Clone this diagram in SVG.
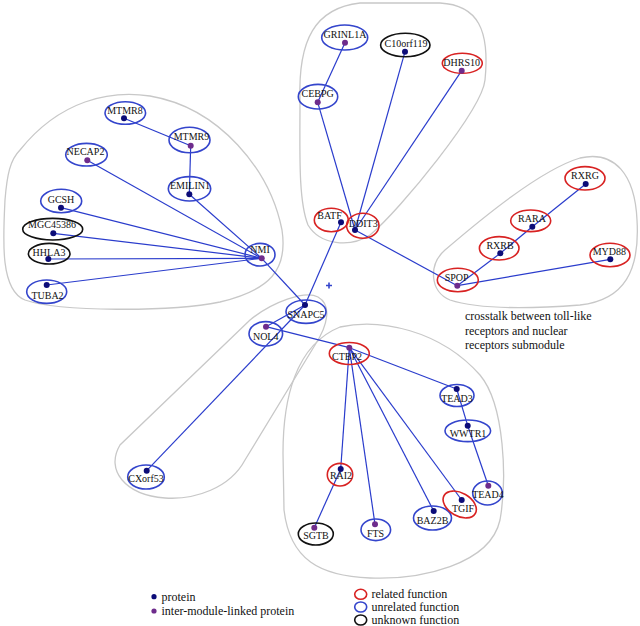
<svg xmlns="http://www.w3.org/2000/svg" width="640" height="626" viewBox="0 0 640 626">
<style>
.hull{fill:none;stroke:#c8c8c8;stroke-width:1.3}
.e{stroke:#2a3ccc;stroke-width:1.2;fill:none}
.nb{fill:none;stroke:#3445cc;stroke-width:1.6}
.nr{fill:none;stroke:#d82222;stroke-width:1.6}
.nk{fill:none;stroke:#111;stroke-width:1.6}
.dp{fill:#0c0c78}
.dm{fill:#6e2c8c}
.lb{font-family:"Liberation Serif","Times New Roman",serif;font-size:10px;fill:#111;text-anchor:middle}
.tx{font-family:"Liberation Serif","Times New Roman",serif;font-size:12px;fill:#111}
</style>
<rect width="640" height="626" fill="#fff"/>
<g id="modules">
<path class="hull" d="M300,100 C298,40 315,8 360,3 L440,3 C478,5 490,30 485,80 C482,110 400,210 370,235 C350,248 320,245 308,225 C298,200 300,150 300,100 Z"/>
<path class="hull" d="M445,250 C480,220 540,170 580,158 C615,150 635,175 637,220 C640,270 625,300 580,305 C540,308 480,310 450,300 C430,292 428,265 445,250 Z"/>
<path class="hull" d="M20,150 C60,100 110,90 150,96 C220,108 270,170 282,230 C288,270 270,290 220,302 C170,312 60,312 25,300 C0,290 3,240 5,200 C7,175 10,160 20,150 Z"/>
<path class="hull" d="M318,297 C332,305 328,325 315,345 L245,460 C230,488 195,500 165,498 C125,495 105,470 120,445 L250,320 C272,302 305,290 318,297 Z"/>
<path class="hull" d="M283,453 C283,400 295,345 340,327 C380,318 440,330 480,375 C505,405 507,480 500,520 C490,565 420,580 370,578 C320,576 290,560 284,510 Z"/>
</g>
<g id="connectors">
<line class="e" x1="345" y1="42.7" x2="317.7" y2="102.3"/>
<line class="e" x1="317.7" y1="102.3" x2="355" y2="230"/>
<line class="e" x1="405" y1="51.7" x2="355" y2="230"/>
<line class="e" x1="461.7" y1="70.7" x2="355" y2="230"/>
<line class="e" x1="355" y1="230" x2="457.3" y2="285.7"/>
<line class="e" x1="341" y1="222.3" x2="305" y2="305"/>
<line class="e" x1="585.7" y1="184" x2="532.3" y2="226.7"/>
<line class="e" x1="532.3" y1="226.7" x2="500.3" y2="253.3"/>
<line class="e" x1="500.3" y1="253.3" x2="457.3" y2="285.7"/>
<line class="e" x1="610.3" y1="259.3" x2="457.3" y2="285.7"/>
<line class="e" x1="124" y1="118.3" x2="190.7" y2="145.7"/>
<line class="e" x1="190.7" y1="145.7" x2="189.3" y2="194.3"/>
<line class="e" x1="189.3" y1="194.3" x2="261.7" y2="258.3"/>
<line class="e" x1="87.3" y1="160.3" x2="261.7" y2="258.3"/>
<line class="e" x1="61" y1="207.7" x2="261.7" y2="258.3"/>
<line class="e" x1="53.3" y1="233.3" x2="261.7" y2="258.3"/>
<line class="e" x1="48.3" y1="259" x2="261.7" y2="258.3"/>
<line class="e" x1="46.7" y1="285" x2="261.7" y2="258.3"/>
<line class="e" x1="261.7" y1="258.3" x2="305" y2="305"/>
<line class="e" x1="305" y1="305" x2="266" y2="326.7"/>
<line class="e" x1="305" y1="305" x2="146.7" y2="470.7"/>
<line class="e" x1="266" y1="326.7" x2="349.3" y2="347.7"/>
<line class="e" x1="349.3" y1="347.7" x2="456.7" y2="389"/>
<line class="e" x1="349.3" y1="347.7" x2="340.7" y2="469"/>
<line class="e" x1="349.3" y1="347.7" x2="375" y2="524.3"/>
<line class="e" x1="349.3" y1="347.7" x2="433.7" y2="511"/>
<line class="e" x1="349.3" y1="347.7" x2="461.7" y2="500"/>
<line class="e" x1="340.7" y1="469" x2="314.3" y2="527.7"/>
<line class="e" x1="456.7" y1="389" x2="467.7" y2="425.7"/>
<line class="e" x1="467.7" y1="425.7" x2="488.3" y2="485.7"/>
</g>
<g id="GRINL1A"><ellipse class="nb" cx="344.7" cy="37.5" rx="23" ry="12.5"/><text class="lb" x="345" y="37.5">GRINL1A</text><circle class="dm" cx="345" cy="42.7" r="3"/></g>
<g id="C10orf119"><ellipse class="nk" cx="405.3" cy="45" rx="24.7" ry="11.7"/><text class="lb" x="406" y="47">C10orf119</text><circle class="dp" cx="405" cy="51.7" r="3"/></g>
<g id="DHRS10"><ellipse class="nr" cx="462.3" cy="63.3" rx="20" ry="10"/><text class="lb" x="461.7" y="66">DHRS10</text><circle class="dm" cx="461.7" cy="70.7" r="3"/></g>
<g id="CEBPG"><ellipse class="nb" cx="318" cy="96.7" rx="19.7" ry="12.3"/><text class="lb" x="317.7" y="97">CEBPG</text><circle class="dm" cx="317.7" cy="102.3" r="3"/></g>
<g id="BATF"><ellipse class="nr" cx="331.3" cy="220" rx="17" ry="11.7"/><text class="lb" x="329.5" y="218.5">BATF</text><circle class="dp" cx="341" cy="222.3" r="3"/></g>
<g id="DDIT3"><ellipse class="nr" cx="362.8" cy="225.8" rx="16.2" ry="12.5"/><text class="lb" x="363.3" y="227">DDIT3</text><circle class="dp" cx="355" cy="230" r="3"/></g>
<g id="RXRG"><ellipse class="nr" cx="585" cy="178.3" rx="20" ry="11.7"/><text class="lb" x="585" y="178.5">RXRG</text><circle class="dp" cx="585.7" cy="184" r="3"/></g>
<g id="RARA"><ellipse class="nr" cx="530.7" cy="220.8" rx="20" ry="10.8"/><text class="lb" x="532" y="222.3">RARA</text><circle class="dp" cx="532.3" cy="226.7" r="3"/></g>
<g id="RXRB"><ellipse class="nr" cx="499.2" cy="248.3" rx="19.8" ry="11.7"/><text class="lb" x="500" y="248.5">RXRB</text><circle class="dp" cx="500.3" cy="253.3" r="3"/></g>
<g id="MYD88"><ellipse class="nr" cx="610" cy="255" rx="20" ry="11.7"/><text class="lb" x="609.3" y="254.5">MYD88</text><circle class="dp" cx="610.3" cy="259.3" r="3"/></g>
<g id="SPOP"><ellipse class="nr" cx="457.8" cy="280" rx="20.5" ry="11.7"/><text class="lb" x="456.7" y="281">SPOP</text><circle class="dm" cx="457.3" cy="285.7" r="3"/></g>
<g id="MTMR8"><ellipse class="nb" cx="125.3" cy="113" rx="20.3" ry="11.3"/><text class="lb" x="125" y="114">MTMR8</text><circle class="dp" cx="124" cy="118.3" r="3"/></g>
<g id="MTMR9"><ellipse class="nb" cx="189.5" cy="140" rx="20.5" ry="12.7"/><text class="lb" x="191.5" y="140">MTMR9</text><circle class="dm" cx="190.7" cy="145.7" r="3"/></g>
<g id="NECAP2"><ellipse class="nb" cx="86.5" cy="154.7" rx="20.8" ry="11.3"/><text class="lb" x="85.5" y="155">NECAP2</text><circle class="dm" cx="87.3" cy="160.3" r="3"/></g>
<g id="EMILIN1"><ellipse class="nb" cx="189.5" cy="188.8" rx="21.2" ry="12.2"/><text class="lb" x="190" y="189">EMILIN1</text><circle class="dp" cx="189.3" cy="194.3" r="3"/></g>
<g id="GCSH"><ellipse class="nb" cx="61.2" cy="201" rx="20.5" ry="11.7"/><text class="lb" x="61" y="202.7">GCSH</text><circle class="dp" cx="61" cy="207.7" r="3"/></g>
<g id="MGC45386"><ellipse class="nk" cx="52.7" cy="229.2" rx="30" ry="10.8"/><text class="lb" x="52" y="228.3">MGC45386</text><circle class="dp" cx="53.3" cy="233.3" r="3"/></g>
<g id="HHLA3"><ellipse class="nk" cx="49.2" cy="253.7" rx="20.8" ry="10.3"/><text class="lb" x="49" y="255.5">HHLA3</text><circle class="dp" cx="48.3" cy="259" r="3"/></g>
<g id="TUBA2"><ellipse class="nb" cx="46.7" cy="291.7" rx="20" ry="11.7"/><text class="lb" x="47.5" y="299">TUBA2</text><circle class="dp" cx="46.7" cy="285" r="3"/></g>
<g id="NMI"><ellipse class="nb" cx="260" cy="254.7" rx="15" ry="11.3"/><text class="lb" x="260" y="253.3">NMI</text><circle class="dm" cx="261.7" cy="258.3" r="3"/></g>
<g id="SNAPC5"><ellipse class="nb" cx="306" cy="311.7" rx="20" ry="11.7"/><text class="lb" x="306" y="318.3">SNAPC5</text><circle class="dp" cx="305" cy="305" r="3"/></g>
<g id="NOL4"><ellipse class="nb" cx="265.8" cy="333.8" rx="16.8" ry="12.2"/><text class="lb" x="265.7" y="340">NOL4</text><circle class="dm" cx="266" cy="326.7" r="3"/></g>
<g id="CTBP2"><ellipse class="nr" cx="349.3" cy="353.5" rx="20" ry="11"/><text class="lb" x="347" y="360">CTBP2</text><circle class="dm" cx="349.3" cy="347.7" r="3"/></g>
<g id="CXorf53"><ellipse class="nb" cx="146" cy="477" rx="18.3" ry="12"/><text class="lb" x="146" y="482.3">CXorf53</text><circle class="dp" cx="146.7" cy="470.7" r="3"/></g>
<g id="RAI2"><ellipse class="nr" cx="340" cy="474.7" rx="12.7" ry="11.3"/><text class="lb" x="341" y="479.3">RAI2</text><circle class="dp" cx="340.7" cy="469" r="3"/></g>
<g id="SGTB"><ellipse class="nk" cx="315.8" cy="534" rx="17.5" ry="11"/><text class="lb" x="316" y="539.3">SGTB</text><circle class="dm" cx="314.3" cy="527.7" r="3"/></g>
<g id="FTS"><ellipse class="nb" cx="375.8" cy="529.8" rx="14.8" ry="10.8"/><text class="lb" x="375.5" y="536.7">FTS</text><circle class="dm" cx="375" cy="524.3" r="3"/></g>
<g id="BAZ2B"><ellipse class="nb" cx="432.5" cy="518" rx="19" ry="12"/><text class="lb" x="432.5" y="524">BAZ2B</text><circle class="dp" cx="433.7" cy="511" r="3"/></g>
<g id="TGIF"><ellipse class="nr" cx="459.7" cy="504.5" rx="18" ry="11.5" transform="rotate(30 459.7 504.5)"/><text class="lb" x="463" y="511.7">TGIF</text><circle class="dp" cx="461.7" cy="500" r="3"/></g>
<g id="TEAD3"><ellipse class="nb" cx="457" cy="395.5" rx="17" ry="11"/><text class="lb" x="457" y="401.7">TEAD3</text><circle class="dp" cx="456.7" cy="389" r="3"/></g>
<g id="WWTR1"><ellipse class="nb" cx="467.8" cy="430.8" rx="22.8" ry="10.8"/><text class="lb" x="468" y="436.7">WWTR1</text><circle class="dp" cx="467.7" cy="425.7" r="3"/></g>
<g id="TEAD4"><ellipse class="nb" cx="487.5" cy="493" rx="14.8" ry="12"/><text class="lb" x="488" y="498.3">TEAD4</text><circle class="dm" cx="488.3" cy="485.7" r="3"/></g>
<g id="center-mark"><path d="M326,285.5 H332 M329,282.5 V288.5" stroke="#3445cc" stroke-width="1.6"/></g>
<g id="annotation">
<text class="tx" x="465" y="320">crosstalk between toll-like</text>
<text class="tx" x="465" y="335">receptors and nuclear</text>
<text class="tx" x="465" y="349">receptors submodule</text>
</g>
<g id="legend">
<circle class="dp" cx="154" cy="596.7" r="2.6"/>
<text class="tx" x="161.5" y="600.5">protein</text>
<circle class="dm" cx="154" cy="611" r="2.6"/>
<text class="tx" x="161.5" y="614.5">inter-module-linked protein</text>
<ellipse class="nr" cx="360.7" cy="594.3" rx="6" ry="5"/>
<text class="tx" x="371.5" y="598">related function</text>
<ellipse class="nb" cx="360.7" cy="607" rx="6" ry="5"/>
<text class="tx" x="371.5" y="611">unrelated function</text>
<ellipse class="nk" cx="360.7" cy="620" rx="6" ry="5"/>
<text class="tx" x="371.5" y="624">unknown function</text>
</g>
</svg>
